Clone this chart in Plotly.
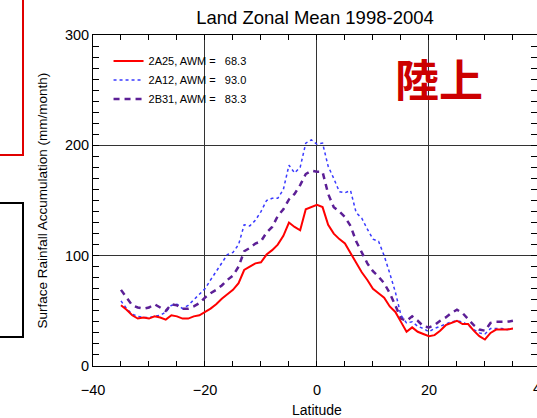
import plotly.graph_objects as go

# Latitude (degrees)
latitude = list(range(-35, 36))

# 2A25 zonal mean (mm/month)
rain_2a25 = [55, 51, 46, 43, 44, 43, 45, 44, 42, 46,
             45, 43, 43, 45, 46, 49, 52, 56, 61, 65,
             69, 75, 87, 90, 93, 94, 101, 105, 110, 118,
             130, 126, 123, 142, 144, 146, 144, 128, 120, 115,
             111, 102, 93, 85, 78, 70, 66, 62, 54, 49,
             40, 31, 35, 31, 29, 27, 28, 32, 37, 39,
             41, 38, 38, 32, 27, 24, 30, 33, 33, 33, 34]

# 2A12 zonal mean (mm/month)
rain_2a12 = [59, 52, 47, 45, 44, 44, 45, 46, 49, 55,
             56, 52, 55, 60, 65, 70, 78, 86, 94, 101,
             103, 110, 128, 127, 132, 140, 150, 152, 152, 160,
             182, 175, 180, 202, 205, 201, 202, 181, 170, 158,
             157, 159, 139, 134, 124, 115, 113, 100, 84, 67,
             46, 39, 40, 36, 34, 31, 34, 36, 38, 40,
             41, 40, 37, 33, 30, 29, 34, 34, 34, 33, 34]

# 2B31 zonal mean (mm/month)
rain_2b31 = [69, 62, 55, 53, 52, 53, 56, 53, 50, 56,
             55, 52, 52, 54, 57, 62, 66, 69, 73, 78,
             82, 90, 104, 107, 111, 113, 121, 126, 136, 142,
             151, 156, 164, 174, 177, 176, 176, 156, 144, 140,
             135, 127, 113, 103, 93, 86, 81, 75, 66, 55,
             43, 41, 45, 41, 36, 35, 37, 41, 44, 48,
             51, 48, 42, 37, 33, 32, 39, 40, 40, 40, 41]

series_names = ["2A25, AWM =", "2A12, AWM =", "2B31, AWM ="]
awm_values = ["68.3", "93.0", "83.3"]

FONT = "Liberation Sans, Arial, Helvetica, sans-serif"
NB = "\u00a0"
X_RANGE = [-40, 39.3]

fig = go.Figure()
styles = [
    dict(color="#ff0000", width=2, dash="solid"),
    dict(color="#3a3aff", width=1.5, dash="dot"),
    dict(color="#5c1f96", width=2.5, dash="6px,5px"),
]
# the 2A25 series is drawn against the label axis (same range as the main one)
axes_for = ["x2", "x", "x"]
for i, (name, val, ys, st, xa) in enumerate(zip(series_names, awm_values,
                                                [rain_2a25, rain_2a12, rain_2b31],
                                                styles, axes_for)):
    fig.add_trace(go.Scatter(
        x=latitude, y=ys, mode="lines",
        name=name + NB * 3 + val,
        legendgroup=f"g{i}",
        line=st, xaxis=xa, yaxis="y",
    ))

fig.update_layout(
    width=537, height=418,
    margin=dict(l=93, r=0, t=35, b=52),
    paper_bgcolor="white", plot_bgcolor="white",
    font=dict(family=FONT, color="black"),
    title=dict(text="Land Zonal Mean 1998-2004", x=0.5, xref="paper",
               xanchor="center", y=1 - 18 / 418, yref="container",
               yanchor="middle", font=dict(size=18.5, color="black")),
    showlegend=True,
    legend=dict(x=0.035, y=0.965, xanchor="left", yanchor="top",
                bgcolor="rgba(0,0,0,0)", borderwidth=0,
                font=dict(size=11, color="black"),
                itemwidth=30, tracegroupgap=1.5, traceorder="normal"),
    xaxis=dict(
        range=X_RANGE, dtick=20, tick0=-40,
        showgrid=True, gridcolor="#333333", gridwidth=1, zeroline=False,
        ticks="inside", ticklen=5, tickwidth=1, tickcolor="black",
        showline=True, linecolor="black", linewidth=1, mirror="allticks",
        minor=dict(dtick=5, ticks="inside", ticklen=5,
                   tickwidth=1, tickcolor="black", showgrid=False),
        showticklabels=False,
    ),
    # label axis: carries the tick labels, pushed below by transparent outside ticks
    xaxis2=dict(
        range=X_RANGE, dtick=20, tick0=-40, overlaying="x", anchor="y",
        side="bottom", showgrid=False, zeroline=False, showline=False,
        ticks="outside", ticklen=11, tickcolor="rgba(0,0,0,0)",
        tickfont=dict(size=14.5, color="black"),
    ),
    yaxis=dict(
        range=[0, 300], dtick=100,
        showgrid=True, gridcolor="#333333", gridwidth=1, zeroline=False,
        ticks="inside", ticklen=6, tickwidth=1, tickcolor="black",
        showline=True, linecolor="black", linewidth=1, mirror="allticks",
        minor=dict(dtick=10, ticks="inside", ticklen=6,
                   tickwidth=1, tickcolor="black", showgrid=False),
        tickfont=dict(size=14.5, color="black"),
    ),
)

# Axis titles
fig.add_annotation(text="Latitude", xref="paper", yref="paper",
                   x=(317 - 93) / 444, y=-(410 - 366) / 331,
                   xanchor="center", yanchor="middle", showarrow=False,
                   font=dict(size=14, color="black"))
fig.add_annotation(text="Surface Rainfall Accumulation (mm/month)",
                   xref="paper", yref="paper",
                   x=(42 - 93) / 444, y=0.5, textangle=-90,
                   xanchor="center", yanchor="middle", showarrow=False,
                   font=dict(size=13.5, color="black"))
# Partially visible "40" tick label at right edge
fig.add_annotation(text="40", xref="paper", yref="paper",
                   x=(541 - 93) / 444, y=-(388 - 366) / 331,
                   xanchor="center", yanchor="middle", showarrow=False,
                   font=dict(size=14.5, color="black"))
# Japanese label
fig.add_annotation(text="陸上", xref="paper", yref="paper",
                   x=(439 - 93) / 444, y=(366 - 78) / 331,
                   xanchor="center", yanchor="middle", showarrow=False,
                   font=dict(size=44, color="#cc0000",
                             family="Noto Sans CJK JP", weight="bold"))

# Slide remnants on the left edge
def px_x(p):
    return (p - 93) / 444

def px_y(p):
    return (366 - p) / 331

fig.add_shape(type="path", xref="paper", yref="paper",
              path=f"M {px_x(23)} {px_y(-5)} L {px_x(23)} {px_y(155)} L {px_x(-5)} {px_y(155)}",
              line=dict(color="#e00000", width=2))
fig.add_shape(type="rect", xref="paper", yref="paper",
              x0=px_x(-5), x1=px_x(23), y0=px_y(337), y1=px_y(203),
              line=dict(color="black", width=2))

fig.write_html("out.html", config={"displayModeBar": False},
               post_script="document.body.style.margin='0';document.body.style.overflow='hidden';")
